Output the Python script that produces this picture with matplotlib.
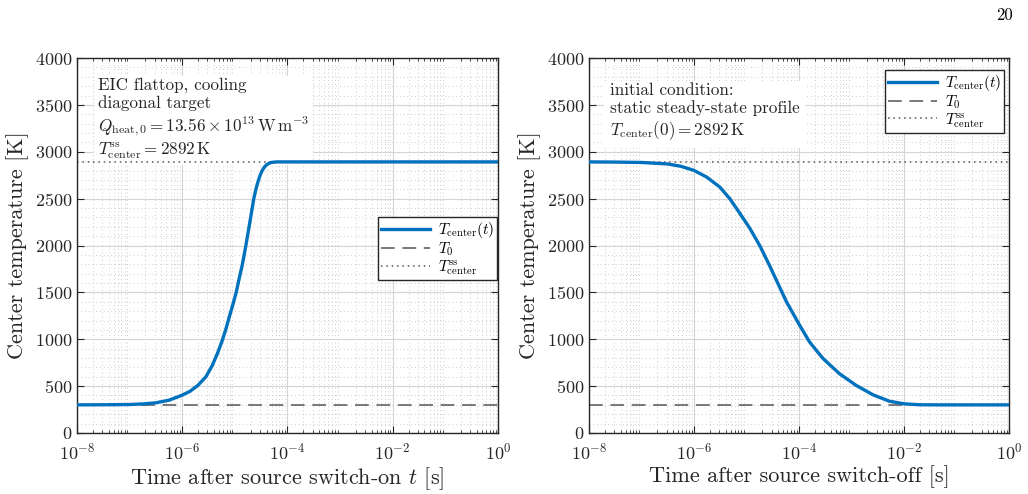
import matplotlib
matplotlib.use("Agg")
import matplotlib.pyplot as plt
from matplotlib.ticker import LogLocator, MultipleLocator, NullFormatter

plt.rcParams['font.family'] = 'serif'
plt.rcParams['font.serif'] = ['cmr10']
plt.rcParams['mathtext.fontset'] = 'cm'
plt.rcParams['axes.formatter.use_mathtext'] = True
plt.rcParams['axes.unicode_minus'] = False

# switch-on (heating) transient
t_on = [1e-8, 3.16e-8, 1e-7, 1.78e-7, 3.16e-7, 5.62e-7, 1e-6, 1.41e-6, 2.0e-6, 2.82e-6,
        3.72e-6, 4.68e-6, 5.75e-6, 6.76e-6, 7.76e-6, 9.12e-6, 1.06e-5, 1.20e-5, 1.38e-5,
        1.62e-5, 1.91e-5, 2.29e-5, 2.51e-5, 2.75e-5, 3.02e-5, 3.31e-5, 3.63e-5, 3.98e-5,
        4.47e-5, 5.01e-5, 6.31e-5, 1e-4, 1e-3, 1e-2, 1e-1, 1.0]
T_on = [300, 301, 304, 310, 322, 350, 404, 445, 510, 600,
        720, 850, 985, 1110, 1230, 1365, 1500, 1640, 1790,
        2000, 2236, 2500, 2600, 2680, 2750, 2800, 2835, 2860,
        2878, 2887, 2892, 2892, 2892, 2892, 2892, 2892]

# switch-off (cooling) transient
t_off = [1e-8, 3.16e-8, 1e-7, 3.16e-7, 5.62e-7, 1e-6, 1.74e-6, 3.09e-6, 4.79e-6, 7.41e-6,
         1.15e-5, 1.78e-5, 2.75e-5, 4.27e-5, 5.75e-5, 7.59e-5, 1e-4, 1.58e-4, 2.14e-4,
         2.88e-4, 4.17e-4, 5.89e-4, 1.23e-3, 2.57e-3, 5.25e-3, 1e-2, 2.0e-2, 5e-2, 1e-1, 1.0]
T_off = [2892, 2890, 2886, 2870, 2845, 2801, 2730, 2624, 2500, 2345,
         2185, 2000, 1785, 1555, 1400, 1280, 1160, 972, 880,
         793, 710, 632, 507, 407, 339, 311, 301, 300, 300, 300]

T0 = 300
T_ss = 2892

blue = '#0072BD'
dark = '#262626'

fig = plt.figure(figsize=(10.28, 4.94), dpi=100)
ax1 = fig.add_axes([0.0749, 0.1235, 0.4095, 0.759])
ax2 = fig.add_axes([0.573, 0.1235, 0.4086, 0.759])


def style(ax, t, T, xlabel):
    ax.plot(t, T, color=blue, lw=2.4, label=r'$T_\mathrm{center}(t)$', zorder=3,
            solid_joinstyle='round')
    ax.axhline(T0, color='#555555', lw=1.1, ls=(0, (9, 5)), label=r'$T_0$', zorder=2)
    ax.axhline(T_ss, color='#555555', lw=1.1, ls=(0, (1, 2.5)),
               label=r'$T_\mathrm{center}^\mathrm{ss}$', zorder=2)
    ax.set_xscale('log')
    ax.set_xlim(1e-8, 1)
    ax.set_ylim(0, 4000)
    ax.set_xticks([1e-8, 1e-6, 1e-4, 1e-2, 1])
    ax.xaxis.set_minor_locator(LogLocator(base=10, subs=range(2, 10), numticks=20))
    ax.xaxis.set_minor_formatter(NullFormatter())
    ax.yaxis.set_major_locator(MultipleLocator(500))
    ax.yaxis.set_minor_locator(MultipleLocator(100))
    ax.grid(True, which='major', color='#d4d4d4', lw=0.8, ls='-')
    ax.grid(True, which='minor', color='#bdbdbd', lw=0.6, ls=(0, (1, 3.5)))
    ax.set_axisbelow(True)
    ax.tick_params(which='both', direction='in', top=True, right=True, colors=dark,
                   labelsize=13)
    ax.tick_params(which='major', length=5)
    ax.tick_params(which='minor', length=2.5)
    ax.tick_params(axis='y', which='minor', length=0)
    ax.tick_params(axis='x', which='major', pad=6)
    for s in ax.spines.values():
        s.set_color(dark)
        s.set_linewidth(1.0)
    ax.set_ylabel('Center temperature [K]', fontsize=16, color=dark)
    ax.set_xlabel(xlabel, fontsize=16, color=dark, labelpad=2)


style(ax1, t_on, T_on, r'Time after source switch-on $t$ [s]')
style(ax2, t_off, T_off, 'Time after source switch-off [s]')

ax1.text(0.05, 0.95,
         'EIC flattop, cooling\ndiagonal target\n'
         r'$Q_\mathrm{heat,0} = 13.56\times 10^{13}\,\mathrm{W\,m^{-3}}$' '\n'
         r'$T_\mathrm{center}^\mathrm{ss} = 2892\,\mathrm{K}$',
         transform=ax1.transAxes, va='top', ha='left', fontsize=12.3, color=dark,
         linespacing=1.2,
         bbox=dict(facecolor='white', edgecolor='none', pad=3), zorder=1.5)

ax2.text(0.05, 0.935,
         'initial condition:\nstatic steady-state profile\n'
         r'$T_\mathrm{center}(0) = 2892\,\mathrm{K}$',
         transform=ax2.transAxes, va='top', ha='left', fontsize=12.3, color=dark,
         linespacing=1.2,
         bbox=dict(facecolor='white', edgecolor='none', pad=4), zorder=1.5)

for ax, anchor in ((ax1, (0.998, 0.575)), (ax2, (0.988, 0.968))):
    leg = ax.legend(loc='upper right', bbox_to_anchor=anchor, fontsize=11,
                    fancybox=False, framealpha=1, edgecolor=dark, handlelength=3.2,
                    borderpad=0.2, labelspacing=0.0, handletextpad=0.5,
                    borderaxespad=0)
    leg.get_frame().set_linewidth(1.0)
    leg.set_zorder(5)

fig.text(0.985, 0.985, '20', ha='right', va='top', fontsize=12, color='black')

fig.savefig('out.png', dpi=100)
